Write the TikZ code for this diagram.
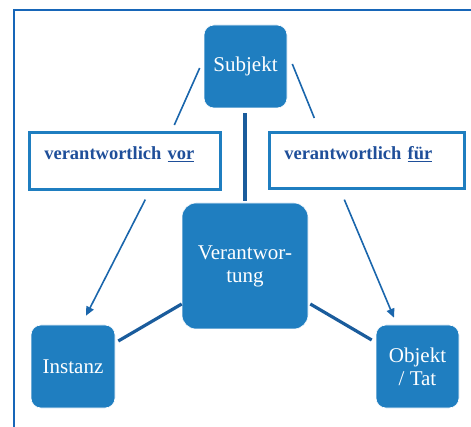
\documentclass[tikz,border=0pt]{standalone}
\usepackage{fontspec}
\setmainfont{Liberation Serif}
\usetikzlibrary{arrows.meta,calc}
\definecolor{boxblue}{HTML}{1F7EC0}
\definecolor{lineblue}{HTML}{1A66AC}
\definecolor{darkline}{HTML}{1A5C9C}
\definecolor{labtext}{HTML}{1F4F9A}
\definecolor{frameblue}{HTML}{1766B8}
\tikzset{
  bluebox/.style={draw=white, line width=0.6pt, fill=boxblue, text=white, rounded corners=10pt,
    inner sep=0pt, align=center, font=\fontsize{21}{23}\selectfont},
  labelbox/.style={draw=boxblue, line width=2.6pt, fill=white, text=labtext, anchor=north west,
    inner xsep=15pt, inner ysep=0pt, align=left, font=\fontsize{18.5}{21}\bfseries\selectfont},
  thinline/.style={draw=lineblue, line width=1.6pt},
  thickline/.style={draw=darkline, line width=3.2pt},
  arrowline/.style={draw=lineblue, line width=1.6pt, -{Triangle[length=9pt,width=8pt]}}
}
\begin{document}
\begin{tikzpicture}[x=1pt,y=-1pt]
\useasboundingbox (0,0) rectangle (471,427);
\clip (0,0) rectangle (471,427);
\coordinate (frameTR) at (475,10);
\coordinate (frameTL) at (14,10);
\coordinate (frameBL) at (14,431);
\draw[frameblue, line width=2.4pt] (frameTR) -- (frameTL) -- (frameBL);

\node[bluebox, minimum width=83pt, minimum height=83pt] (subj) at (245.5,66.5) {Subjekt};
\node[bluebox, minimum width=126pt, minimum height=126pt, rounded corners=14pt] (ver) at (245,266) {Verantwor-\\tung};
\node[bluebox, minimum width=84pt, minimum height=83pt] (inst) at (73,366.5) {Instanz};
\node[bluebox, minimum width=83pt, minimum height=83pt] (obj) at (417.5,366.5) {Objekt\\/ Tat};

\node[labelbox, text width=161pt, text height=27pt, text depth=30pt] (vor) at (28,131) {verantwortlich \underline{vor}};
\node[labelbox, text width=165pt, text height=27pt, text depth=29pt] (fur) at (268,131) {verantwortlich \underline{für}};

\draw[thinline] ($(subj.west)+(-4,1.5)$) -- ($(vor.north)+(49.5,-6)$);
\draw[thinline] ($(subj.east)+(5,-2.5)$) -- ($(fur.north)+(-52.5,-13)$);
\draw[thickline] ($(subj.south)+(-0.5,5)$) -- ($(ver.north)+(0,-2)$);
\draw[arrowline] ($(vor.south)+(20.5,9)$) -- ($(inst.north)+(13,-9)$);
\draw[arrowline] ($(fur.south)+(-22.5,10)$) -- ($(obj.north)+(-23.5,-7)$);
\draw[thickline] ($(ver.west)+(0,38)$) -- ($(inst.east)+(3,-25.5)$);
\draw[thickline] ($(ver.east)+(2,38)$) -- ($(obj.west)+(-4,-26.5)$);
\end{tikzpicture}
\end{document}
